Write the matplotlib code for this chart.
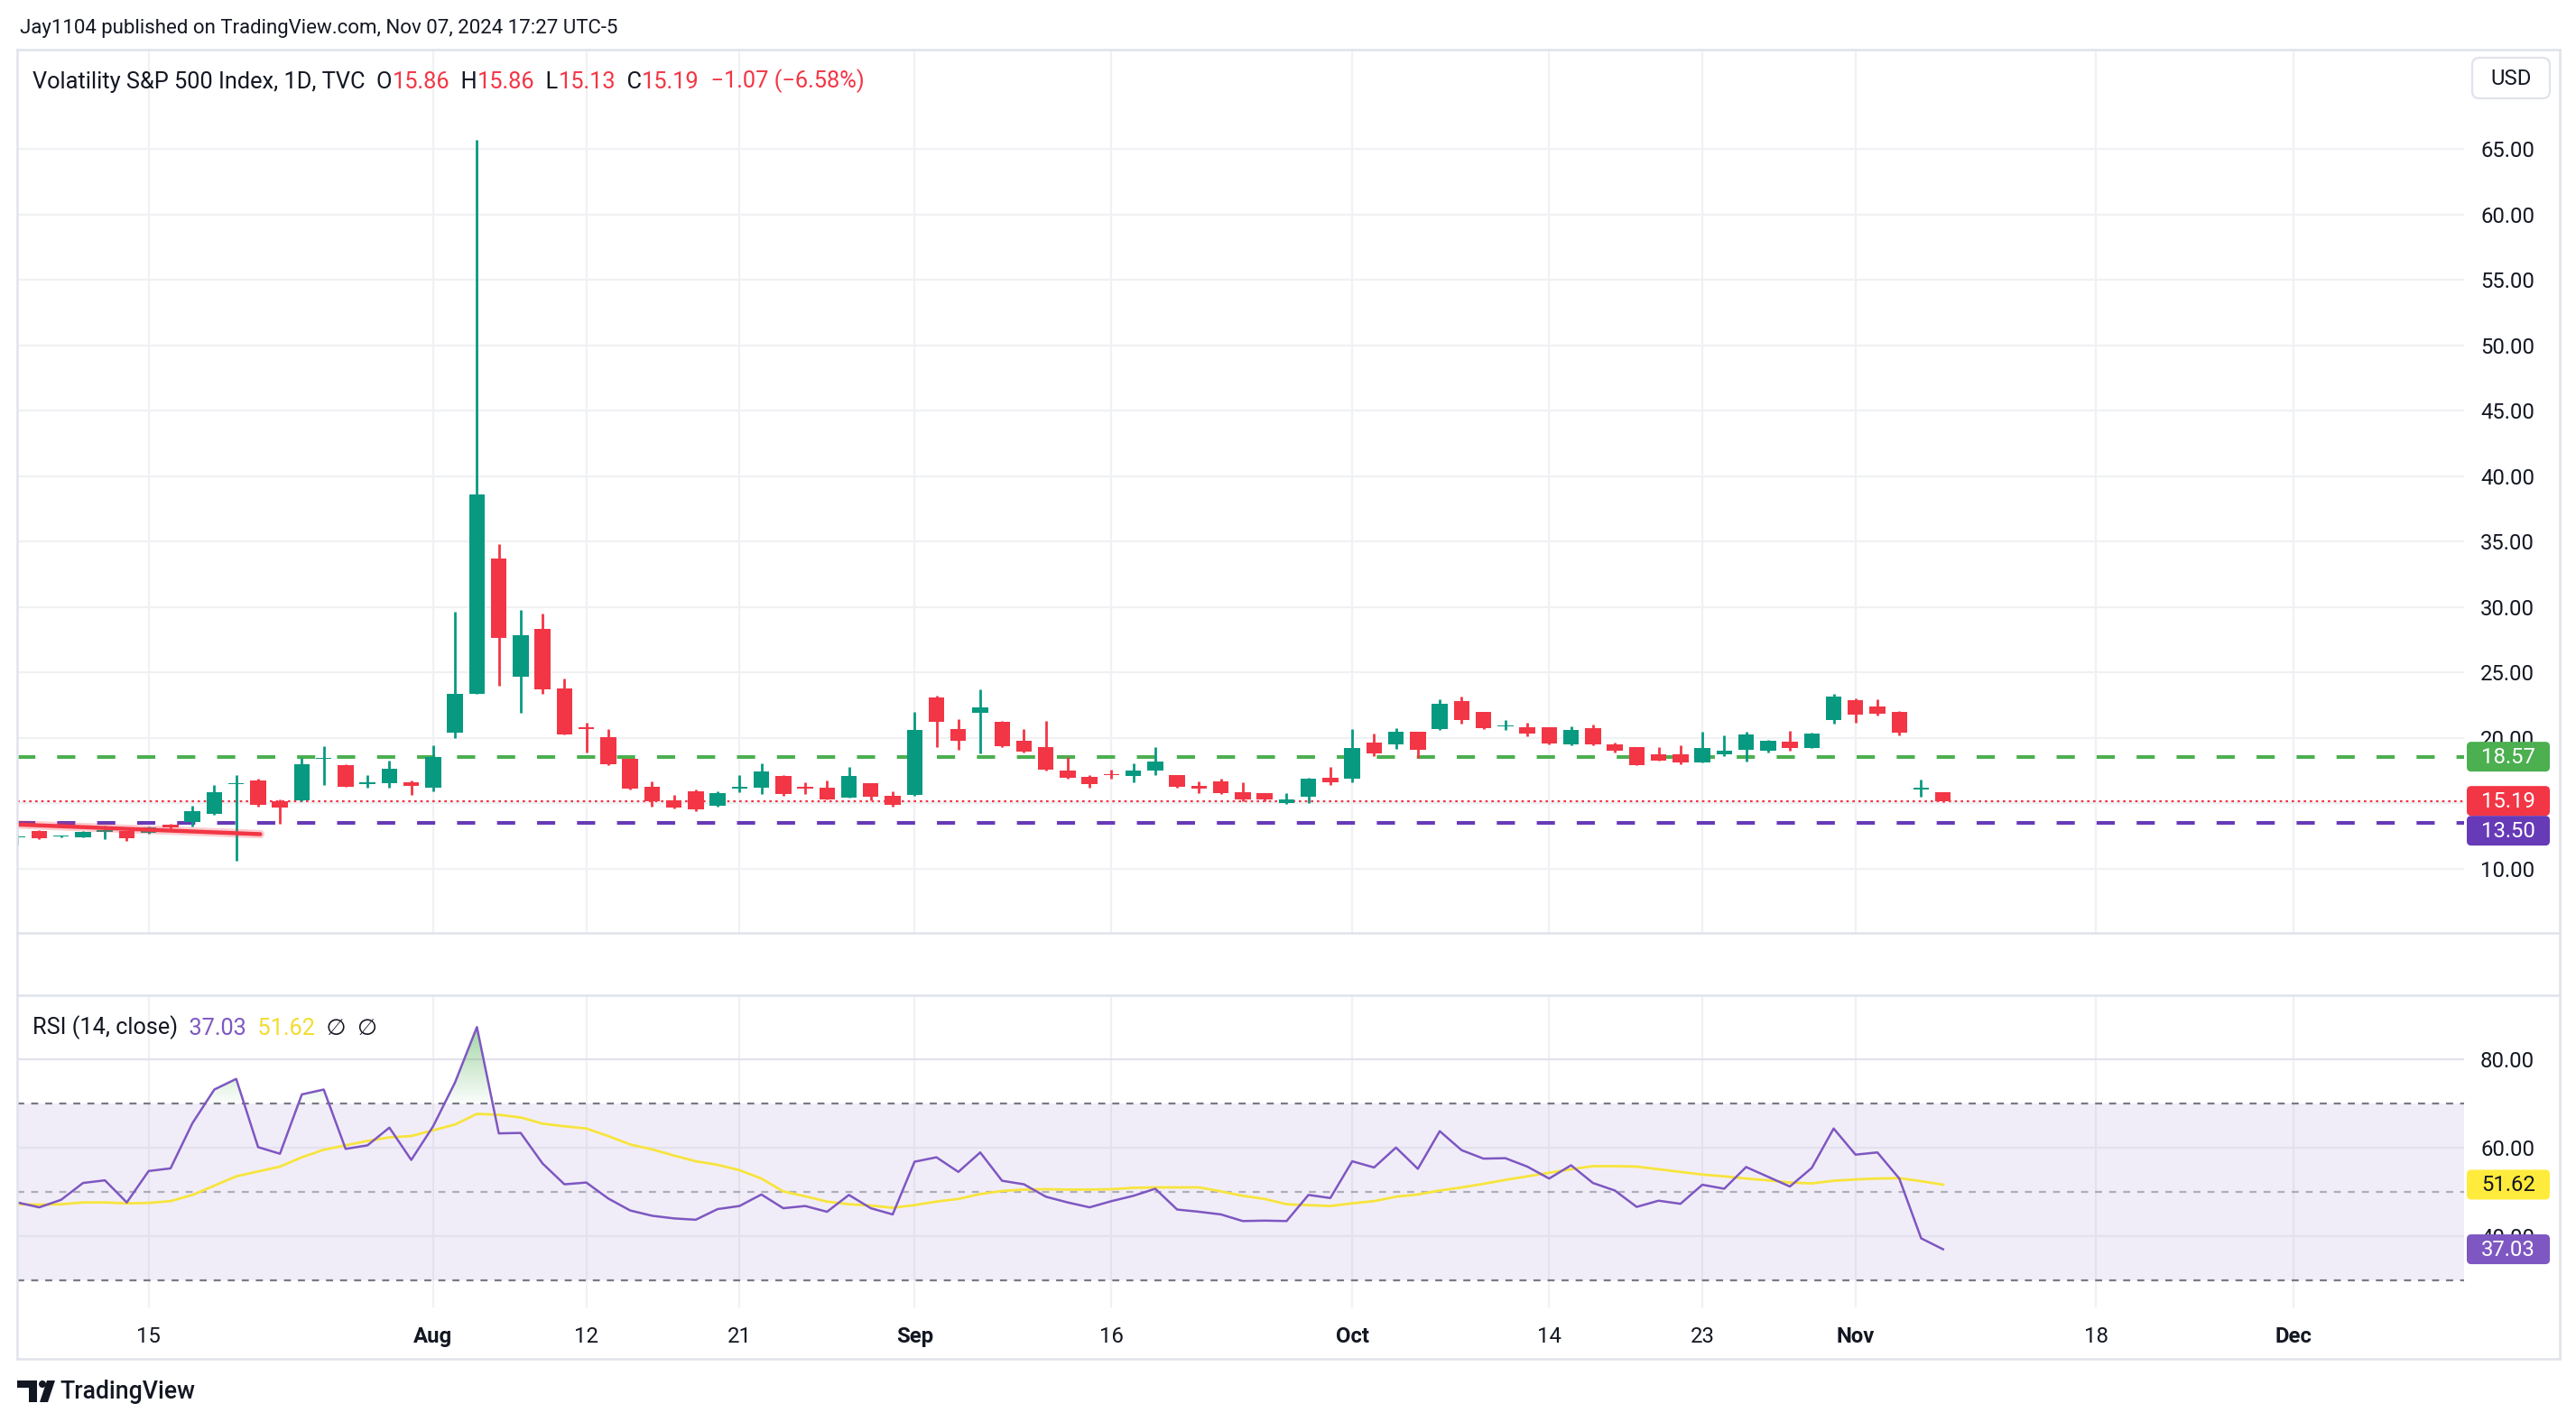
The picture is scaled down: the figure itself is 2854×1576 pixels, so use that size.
import numpy as np
import pandas as pd
import matplotlib
matplotlib.use("Agg")
import matplotlib.pyplot as plt
from matplotlib.patches import Polygon, Circle, FancyBboxPatch
from matplotlib.path import Path

plt.rcParams['font.family'] = ['Roboto', 'DejaVu Sans']

# ---------------- data ----------------
# trading days (index axis, no gaps for weekends / holidays)
days = pd.bdate_range('2024-07-05', '2024-12-31')
days = days.drop(pd.to_datetime(['2024-09-02', '2024-11-28', '2024-12-25']))

opens = [12.40, 12.92, 12.45, 12.44, 12.85, 12.88, 12.74, 13.38, 13.56, 14.18,
         16.45, 16.76, 15.16, 15.25, 18.40, 17.92, 16.50, 16.55, 16.62, 16.17,
         20.42, 23.34, 33.70, 24.71, 28.33, 23.76, 20.84, 20.03, 18.39, 16.25,
         15.23, 15.90, 14.84, 16.10, 16.21, 17.09, 16.30, 16.18, 15.47, 16.53,
         15.61, 15.65, 23.12, 20.70, 21.93, 21.26, 19.82, 19.33, 17.54, 17.05,
         17.20, 17.09, 17.51, 17.17, 16.35, 16.69, 15.87, 15.80, 15.00, 15.53,
         16.96, 16.90, 19.63, 19.52, 20.46, 20.68, 22.85, 21.96, 20.90, 20.80,
         20.80, 19.52, 20.73, 19.50, 19.29, 18.74, 18.74, 18.15, 18.77, 19.11,
         19.04, 19.70, 19.25, 21.37, 22.92, 22.44, 21.96, 16.03, 15.86]
highs = [12.62, 12.96, 12.58, 12.92, 13.33, 12.92, 13.26, 13.47, 14.84, 16.42,
         17.17, 16.90, 15.30, 18.45, 19.36, 17.99, 17.17, 18.26, 16.76, 19.44,
         29.63, 65.73, 34.79, 29.77, 29.49, 24.53, 21.16, 20.70, 18.42, 16.67,
         15.68, 16.07, 15.92, 17.16, 18.03, 17.20, 16.60, 16.74, 17.82, 16.55,
         15.95, 21.96, 23.26, 21.47, 23.75, 21.30, 20.70, 21.33, 18.53, 17.20,
         17.60, 18.03, 19.33, 17.20, 16.70, 16.88, 16.62, 15.82, 15.80, 16.97,
         17.78, 20.66, 20.32, 20.73, 20.50, 22.99, 23.13, 21.96, 21.35, 21.14,
         20.85, 20.86, 21.00, 19.64, 19.30, 19.29, 19.43, 20.46, 20.18, 20.46,
         19.84, 20.52, 20.38, 23.40, 23.06, 22.99, 22.03, 16.83, 15.86]
lows = [11.85, 12.28, 12.38, 12.38, 12.24, 12.10, 12.70, 13.04, 13.26, 14.10,
        10.64, 14.75, 13.47, 15.15, 16.44, 16.25, 16.20, 16.20, 15.66, 15.92,
        20.00, 23.34, 23.97, 21.93, 23.40, 20.25, 18.91, 17.90, 16.03, 14.74,
        14.60, 14.39, 14.75, 15.86, 15.72, 15.60, 15.75, 15.28, 15.45, 15.22,
        14.78, 15.60, 19.30, 19.12, 18.84, 19.30, 18.90, 17.50, 16.90, 16.20,
        16.90, 16.60, 17.15, 16.20, 15.82, 15.70, 15.20, 15.16, 14.93, 15.00,
        16.40, 16.64, 18.58, 19.18, 18.50, 20.60, 21.10, 20.68, 20.62, 20.11,
        19.50, 19.45, 19.45, 18.90, 17.94, 18.25, 18.01, 18.10, 18.63, 18.22,
        18.90, 19.04, 19.20, 21.10, 21.16, 21.69, 20.20, 15.48, 15.13]
closes = [12.48, 12.31, 12.53, 12.85, 12.92, 12.37, 13.15, 13.15, 14.43, 15.87,
          16.52, 14.86, 14.66, 17.99, 18.46, 16.30, 16.60, 17.65, 16.31, 18.52,
          23.37, 38.59, 27.66, 27.83, 23.72, 20.28, 20.70, 17.96, 16.10, 15.16,
          14.70, 14.56, 15.82, 16.27, 17.47, 15.72, 16.15, 15.33, 17.09, 15.51,
          14.91, 20.63, 21.23, 19.79, 22.35, 19.37, 18.95, 17.58, 16.98, 16.46,
          17.14, 17.51, 18.18, 16.28, 16.10, 15.82, 15.32, 15.32, 15.32, 16.90,
          16.64, 19.22, 18.84, 20.46, 19.11, 22.58, 21.37, 20.75, 20.96, 20.34,
          19.59, 20.59, 19.52, 19.04, 17.95, 18.29, 18.13, 19.22, 19.02, 20.25,
          19.77, 19.25, 20.32, 23.13, 21.78, 21.83, 20.41, 16.21, 15.19]

rsi = [47.6, 46.5, 48.2, 52.0, 52.6, 47.6, 54.7, 55.3, 65.5, 73.1,
       75.5, 60.1, 58.6, 72.0, 73.1, 59.7, 60.5, 64.5, 57.2, 64.8,
       74.7, 87.2, 63.2, 63.3, 56.4, 51.7, 52.1, 48.5, 45.8, 44.6,
       44.0, 43.7, 46.1, 46.8, 49.4, 46.3, 46.8, 45.5, 49.3, 46.3,
       44.9, 56.8, 57.8, 54.5, 58.9, 52.5, 51.7, 48.9, 47.6, 46.5,
       47.9, 49.1, 50.7, 46.0, 45.5, 44.9, 43.4, 43.5, 43.4, 49.3,
       48.6, 56.9, 55.5, 60.0, 55.2, 63.7, 59.4, 57.5, 57.6, 55.7,
       53.0, 56.0, 52.0, 50.3, 46.6, 48.0, 47.3, 51.6, 50.7, 55.6,
       53.4, 51.2, 55.4, 64.3, 58.4, 58.9, 53.0, 39.5, 37.03]
rsi_ma = [47.2, 47.1, 47.2, 47.6, 47.6, 47.4, 47.5, 47.9, 49.3, 51.4,
          53.5, 54.6, 55.7, 57.8, 59.5, 60.5, 61.5, 62.3, 62.6, 63.9,
          65.2, 67.6, 67.4, 66.8, 65.4, 64.8, 64.3, 62.6, 60.7, 59.6,
          58.2, 56.9, 56.1, 54.9, 53.0, 50.1, 49.0, 47.8, 47.2, 46.9,
          46.4, 47.0, 47.8, 48.4, 49.5, 50.2, 50.5, 50.6, 50.5, 50.5,
          50.6, 50.9, 51.0, 51.0, 51.0, 50.1, 49.1, 48.4, 47.2, 47.0,
          46.8, 47.4, 47.9, 48.9, 49.4, 50.3, 51.0, 51.8, 52.7, 53.5,
          54.3, 55.1, 55.8, 55.8, 55.7, 55.1, 54.5, 53.9, 53.5, 53.0,
          52.6, 52.1, 51.9, 52.5, 52.8, 53.0, 53.1, 52.4, 51.62]

level_high = 18.57
level_low = 13.50
last_price = 15.19
trend_x = [-0.05, 11.1]
trend_y = [13.39, 12.65]

tick_dates = ['2024-07-15', '2024-08-01', '2024-08-12', '2024-08-21', '2024-09-03', '2024-09-16',
              '2024-10-01', '2024-10-14', '2024-10-23', '2024-11-01', '2024-11-18', '2024-12-02']
tick_labels = ['15', 'Aug', '12', '21', 'Sep', '16', 'Oct', '14', '23', 'Nov', '18', 'Dec']
month_labels = {'Aug', 'Sep', 'Oct', 'Nov', 'Dec'}

price_ticks = list(range(10, 70, 5))
rsi_ticks = [40, 60, 80]

# ---------------- colours ----------------
UP = '#089981'
DOWN = '#F23645'
TXT = '#131722'
GRID = '#f0f1f4'
FRAME = '#e0e3eb'
RSI_C = '#7E57C2'
MA_C = '#F7E43D'

# ---------------- figure ----------------
W, H, DPI = 2854, 1576, 200
fig = plt.figure(figsize=(W / DPI, H / DPI), dpi=DPI)
fig.patch.set_facecolor('white')


def px_rect(x0, y0, x1, y1):
    return [x0 / W, 1 - y1 / H, (x1 - x0) / W, (y1 - y0) / H]


P_TOP, P_BOT = 55, 1034
R_TOP, R_BOT = 1103, 1449
LEFT, RIGHT = 19, 2730
P_LIM = (5.1, 72.6)
R_LIM = (23.9, 94.4)
X_LIM = (-0.01, 111.81)

ax = fig.add_axes(px_rect(LEFT, P_TOP, RIGHT, P_BOT))
ax2 = fig.add_axes(px_rect(LEFT, R_TOP, RIGHT, R_BOT))

x = np.arange(len(closes))
o = np.array(opens)
h = np.array(highs)
l = np.array(lows)
c = np.array(closes)
tick_pos = [days.get_loc(pd.Timestamp(d)) for d in tick_dates]

for a in (ax, ax2):
    a.set_facecolor('none')
    for s in a.spines.values():
        s.set_visible(False)
    for t in tick_pos:
        a.axvline(t, color=GRID, lw=0.8, zorder=0)

# ---- price pane ----
for p in price_ticks:
    ax.axhline(p, color=GRID, lw=0.8, zorder=0)

cols = np.where(c >= o, UP, DOWN)
ax.vlines(x, l, h, colors=cols, lw=1.0, zorder=3)
ax.bar(x, np.maximum(np.abs(c - o), 0.08), bottom=np.minimum(o, c), width=0.72,
       color=cols, lw=0, zorder=4)

ax.axhline(level_high, color='#4CAF50', lw=1.45, dashes=(5, 6), zorder=2)
ax.axhline(level_low, color='#673AB7', lw=1.45, dashes=(5, 6), zorder=2)
ax.axhline(last_price, color=DOWN, lw=0.8, dashes=(1.2, 1.8), zorder=2)
ax.plot(trend_x, trend_y, color=DOWN, lw=3.4, alpha=0.25, solid_capstyle='round', zorder=5)
ax.plot(trend_x, trend_y, color=DOWN, lw=1.6, solid_capstyle='round', zorder=5)

ax.set_xlim(*X_LIM)
ax.set_ylim(*P_LIM)
ax.set_xticks([])
ax.yaxis.tick_right()
ax.set_yticks(price_ticks)
ax.set_yticklabels([f'{p:.2f}' for p in price_ticks])
ax.tick_params(axis='y', length=0, pad=6.5, labelsize=8.6, labelcolor=TXT)

# ---- RSI pane ----
ax2.axhspan(30, 70, color=RSI_C, alpha=0.1, lw=0, zorder=0)
for r in rsi_ticks:
    ax2.axhline(r, color='#e4e1ee', lw=0.8, zorder=0)
ax2.axhline(70, color='#787B86', lw=0.8, dashes=(3.5, 3.5), zorder=1)
ax2.axhline(30, color='#787B86', lw=0.8, dashes=(3.5, 3.5), zorder=1)
ax2.axhline(50, color='#787B86', alpha=0.55, lw=0.8, dashes=(3.5, 3.5), zorder=1)

rsi_arr = np.array(rsi)
fb = ax2.fill_between(x, rsi_arr, 70, where=rsi_arr > 70, interpolate=True,
                      color='none', lw=0)
clip = Path.make_compound_path(*fb.get_paths())
grad = np.zeros((256, 1, 4))
grad[..., 0], grad[..., 1], grad[..., 2] = 0.30, 0.69, 0.31
grad[..., 3] = np.linspace(0.55, 0.02, 256)[:, None]
im = ax2.imshow(grad, extent=[0, len(x), 70, 88], aspect='auto', origin='upper', zorder=2)
im.set_clip_path(clip, transform=ax2.transData)

ax2.plot(x, rsi_ma, color=MA_C, lw=1.0, zorder=3)
ax2.plot(x, rsi, color=RSI_C, lw=0.9, zorder=4)

ax2.set_xlim(*X_LIM)
ax2.set_ylim(*R_LIM)
ax2.yaxis.tick_right()
ax2.set_yticks(rsi_ticks)
ax2.set_yticklabels([f'{r:.2f}' for r in rsi_ticks])
ax2.tick_params(axis='y', length=0, pad=6.5, labelsize=8.6, labelcolor=TXT)
ax2.set_xticks(tick_pos)
ax2.set_xticklabels(tick_labels)
ax2.tick_params(axis='x', length=0, pad=7.5, labelsize=8.6, labelcolor=TXT)
for t in ax2.get_xticklabels():
    if t.get_text() in month_labels:
        t.set_fontweight('bold')

# ---------------- overlay (pixel coordinates) ----------------
ov = fig.add_axes([0, 0, 1, 1], zorder=5)
ov.set_xlim(0, W)
ov.set_ylim(H, 0)
ov.axis('off')
ov.patch.set_alpha(0)

for (x0, y0, x1, y1) in [(LEFT, P_TOP, 2836, P_TOP), (LEFT, 1506, 2836, 1506),
                         (LEFT, P_TOP, LEFT, 1506), (2836, P_TOP, 2836, 1506),
                         (LEFT, P_BOT, 2836, P_BOT), (LEFT, R_TOP, 2836, R_TOP)]:
    ov.plot([x0, x1], [y0, y1], color=FRAME, lw=0.9)


def price_px(p):
    return P_TOP + (P_LIM[1] - p) / (P_LIM[1] - P_LIM[0]) * (P_BOT - P_TOP)


def rsi_px(r):
    return R_TOP + (R_LIM[1] - r) / (R_LIM[1] - R_LIM[0]) * (R_BOT - R_TOP)


def value_box(ypx, label, fc, tc):
    ov.add_patch(FancyBboxPatch((2733, ypx - 16.5), 92, 33,
                                boxstyle='round,pad=0,rounding_size=5', fc=fc, ec='none'))
    ov.text(2779, ypx + 1, label, ha='center', va='center', color=tc, fontsize=8.6)


value_box(price_px(level_high), f'{level_high:.2f}', '#4CAF50', 'white')
value_box(price_px(last_price), f'{last_price:.2f}', DOWN, 'white')
value_box(price_px(last_price) + 33, f'{level_low:.2f}', '#673AB7', 'white')
value_box(rsi_px(rsi_ma[-1]), f'{rsi_ma[-1]:.2f}', '#FFEB3B', TXT)
value_box(rsi_px(rsi[-1]), f'{rsi[-1]:.2f}', RSI_C, 'white')

# USD button
ov.add_patch(FancyBboxPatch((2739, 64), 86, 45, boxstyle='round,pad=0,rounding_size=8',
                            fc='white', ec=FRAME, lw=0.8))
ov.text(2782, 87, 'USD', ha='center', va='center', fontsize=8.6, color=TXT)

# header lines
ov.text(22, 31, 'Jay1104 published on TradingView.com, Nov 07, 2024 17:27 UTC-5',
        fontsize=8.0, color=TXT, va='center')


def chain(x0, y0, pieces, size):
    prev = ov.text(x0, y0, pieces[0][0], color=pieces[0][1], fontsize=size, va='bottom')
    for s, col in pieces[1:]:
        prev = ov.annotate(s, xy=(1, 0), xycoords=prev, xytext=(0, 0),
                           textcoords='offset points', color=col, fontsize=size,
                           va='bottom', ha='left')


chain(36, 103, [('Volatility S&P 500 Index, 1D, TVC  O', TXT), ('15.86', DOWN),
                ('  H', TXT), ('15.86', DOWN), ('  L', TXT), ('15.13', DOWN),
                ('  C', TXT), ('15.19', DOWN), ('  \u22121.07 (\u22126.58%)', DOWN)], 9.15)
chain(36, 1152, [('RSI (14, close)', TXT), ('  37.03', RSI_C), ('  51.62', '#F2DC2E'),
                 ('  \u2205  \u2205', TXT)], 9.1)

# TradingView logo
ov.add_patch(Polygon([(19, 1530), (41, 1530), (41, 1554), (32, 1554), (32, 1538), (19, 1538)],
                     closed=True, fc=TXT, ec='none'))
ov.add_patch(Circle((47, 1534), 4, fc=TXT, ec='none'))
ov.add_patch(Polygon([(44, 1554), (53, 1554), (61, 1530), (52, 1530)], closed=True,
                     fc=TXT, ec='none'))
ov.text(66, 1542, 'TradingView', fontsize=9.6, color=TXT, va='center', fontweight='medium')

fig.savefig('out.png', dpi=DPI, facecolor='white')
